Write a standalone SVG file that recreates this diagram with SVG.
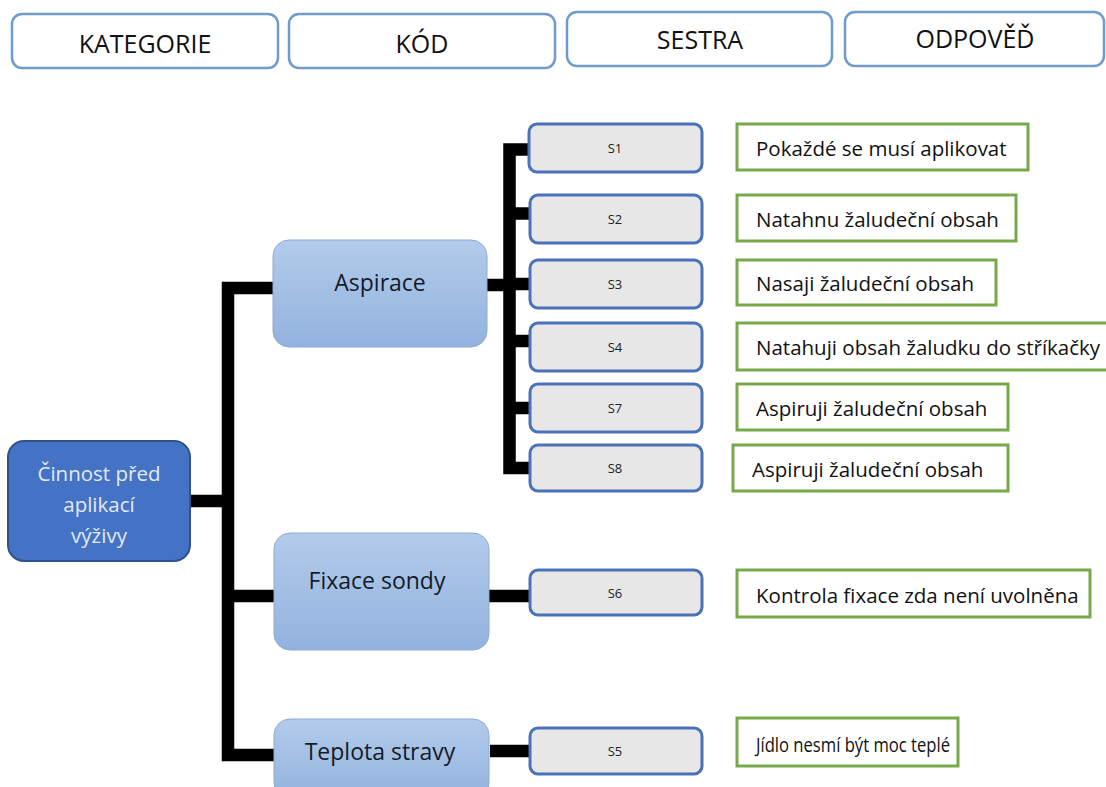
<svg xmlns="http://www.w3.org/2000/svg" width="1106" height="787" viewBox="0 0 1106 787">
  <defs>
    <linearGradient id="catFill" x1="0" y1="0" x2="0" y2="1">
      <stop offset="0" stop-color="#b3cbeb"/>
      <stop offset="1" stop-color="#92b2de"/>
    </linearGradient>
    <style>
      .hdr rect { fill: #ffffff; stroke: #6f9bcb; stroke-width: 2.5; }
      .hdr text { font-family: "Open Sans", "DejaVu Sans", sans-serif; font-size: 25px; fill: #111; text-anchor: middle; }
      .root rect { fill: #4472c4; stroke: #2f528f; stroke-width: 2; }
      .root text { font-family: "Open Sans", "DejaVu Sans", sans-serif; font-size: 20.5px; fill: #e3eaf7; text-anchor: middle; }
      .cat rect { fill: url(#catFill); stroke: #8eaad6; stroke-width: 1; }
      .cat text { font-family: "Open Sans", "DejaVu Sans", sans-serif; font-size: 23px; fill: #141c28; text-anchor: middle; }
      .code rect { fill: #e8e7e8; stroke: #4b72b8; stroke-width: 3; }
      .code text { font-family: "Open Sans", "DejaVu Sans", sans-serif; font-size: 13px; fill: #222; text-anchor: middle; }
      .ans rect { fill: #ffffff; stroke: #76a94a; stroke-width: 3; }
      .ans text { font-family: "Open Sans", "DejaVu Sans", sans-serif; font-size: 20.5px; fill: #111; }
      .ans text.narrow { font-size: 19.5px; }
      .links path { fill: none; stroke: #000; stroke-width: 12.5; stroke-linejoin: miter; stroke-linecap: butt; }
    </style>
  </defs>

  <rect width="1106" height="787" fill="#ffffff"/>

  <!-- column headers -->
  <g id="hdr-kategorie" class="hdr"><rect x="12" y="14" width="266" height="54" rx="10"/><text x="145" y="53">KATEGORIE</text></g>
  <g id="hdr-kod" class="hdr"><rect x="289" y="14" width="266" height="54" rx="10"/><text x="422" y="53">KÓD</text></g>
  <g id="hdr-sestra" class="hdr"><rect x="567" y="12" width="265" height="54" rx="10"/><text x="700" y="49">SESTRA</text></g>
  <g id="hdr-odpoved" class="hdr"><rect x="845" y="12" width="259" height="54" rx="10"/><text x="975" y="48">ODPOVĚĎ</text></g>

  <!-- connectors -->
  <g id="connectors" class="links">
    <path d="M190 501 H228"/>
    <path d="M273 288 H228 V755 H274"/>
    <path d="M228 596 H274"/>
    <path d="M487 285 H510"/>
    <path d="M529 149.5 H509.5 V468 H530"/>
    <path d="M509.5 213.5 H530"/>
    <path d="M509.5 284 H530"/>
    <path d="M509.5 341 H530"/>
    <path d="M509.5 408 H530"/>
    <path d="M489 596 H530"/>
    <path d="M490 751 H530"/>
  </g>

  <!-- root -->
  <g id="root" class="root">
    <rect x="8" y="441" width="182" height="120" rx="16"/>
    <text x="99" y="481">Činnost před</text>
    <text x="99" y="512">aplikací</text>
    <text x="99" y="543">výživy</text>
  </g>

  <!-- categories -->
  <g id="cat-aspirace" class="cat"><rect x="273" y="240" width="214" height="107" rx="16"/><text x="380" y="291">Aspirace</text></g>
  <g id="cat-fixace" class="cat"><rect x="274" y="533" width="215" height="117" rx="16"/><text x="377" y="589">Fixace sondy</text></g>
  <g id="cat-teplota" class="cat"><rect x="274" y="719" width="215" height="80" rx="16"/><text x="380" y="760">Teplota stravy</text></g>

  <!-- codes -->
  <g id="code-s1" class="code"><rect x="529" y="124" width="173" height="48" rx="8"/><text x="615" y="153">S1</text></g>
  <g id="code-s2" class="code"><rect x="530" y="195" width="172" height="48" rx="8"/><text x="615" y="224">S2</text></g>
  <g id="code-s3" class="code"><rect x="530" y="260" width="172" height="48" rx="8"/><text x="615" y="289">S3</text></g>
  <g id="code-s4" class="code"><rect x="530" y="323" width="172" height="48" rx="8"/><text x="615" y="352">S4</text></g>
  <g id="code-s7" class="code"><rect x="530" y="384" width="172" height="48" rx="8"/><text x="615" y="413">S7</text></g>
  <g id="code-s8" class="code"><rect x="530" y="445" width="172" height="46" rx="8"/><text x="615" y="473">S8</text></g>
  <g id="code-s6" class="code"><rect x="530" y="570" width="172" height="45" rx="8"/><text x="615" y="598">S6</text></g>
  <g id="code-s5" class="code"><rect x="530" y="728" width="172" height="46" rx="8"/><text x="615" y="756">S5</text></g>

  <!-- answers -->
  <g id="ans-s1" class="ans"><rect x="737" y="124" width="291" height="46"/><text x="756" y="156">Pokaždé se musí aplikovat</text></g>
  <g id="ans-s2" class="ans"><rect x="737" y="195" width="279" height="46"/><text x="756" y="227">Natahnu žaludeční obsah</text></g>
  <g id="ans-s3" class="ans"><rect x="737" y="260" width="259" height="45"/><text x="756" y="291">Nasaji žaludeční obsah</text></g>
  <g id="ans-s4" class="ans"><rect x="737" y="323" width="372" height="47"/><text x="756" y="355">Natahuji obsah žaludku do stříkačky</text></g>
  <g id="ans-s7" class="ans"><rect x="737" y="384" width="271" height="46"/><text x="756" y="416">Aspiruji žaludeční obsah</text></g>
  <g id="ans-s8" class="ans"><rect x="733" y="445" width="275" height="46"/><text x="752" y="477">Aspiruji žaludeční obsah</text></g>
  <g id="ans-s6" class="ans"><rect x="737" y="570" width="353" height="47"/><text x="756" y="603">Kontrola fixace zda není uvolněna</text></g>
  <g id="ans-s5" class="ans"><rect x="737" y="718" width="221" height="48"/><text class="narrow" x="756" y="752" textLength="194" lengthAdjust="spacingAndGlyphs">Jídlo nesmí být moc teplé</text></g>
</svg>
